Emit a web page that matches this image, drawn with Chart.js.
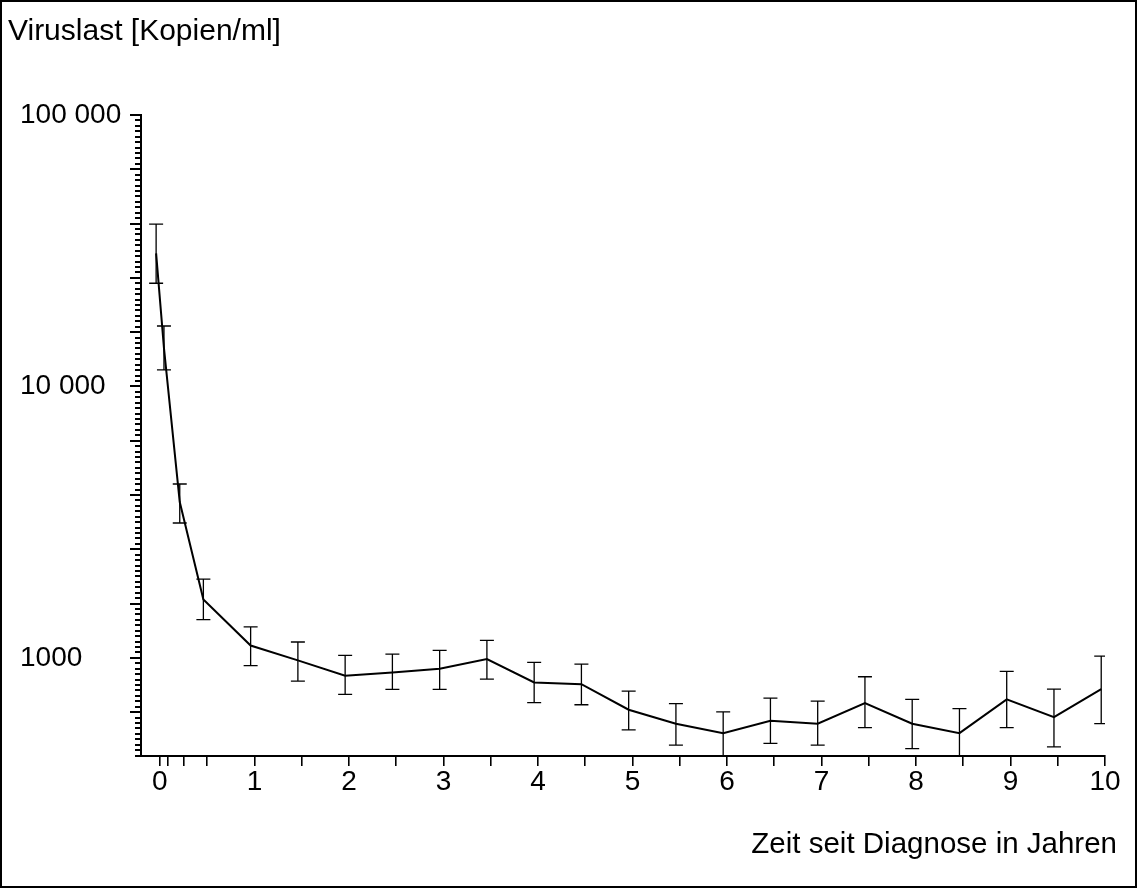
<!DOCTYPE html>
<html>
<head>
<meta charset="utf-8">
<script src="https://cdn.jsdelivr.net/npm/chart.js@4.4.1/dist/chart.umd.min.js"></script>
<style>
html,body{margin:0;padding:0;background:#fff;}
canvas{display:block;}
</style>
</head>
<body>
<canvas id="c" width="1137" height="888"></canvas>
<script>
// ---- data ----
const years = [-0.04, 0.043, 0.21, 0.46, 0.96, 1.46, 1.96, 2.46, 2.96, 3.46, 3.96, 4.46, 4.96, 5.46, 5.96, 6.46, 6.96, 7.46, 7.96, 8.46, 8.96, 9.46, 9.96];
const meanLoad  = [30900, 13840, 3750, 1640, 1110, 979, 860, 884, 912, 990, 812, 800, 644, 572, 528, 587, 572, 681, 572, 528, 703, 605, 767];
const upperLoad = [39600, 16700, 4370, 1950, 1300, 1144, 1021, 1033, 1066, 1160, 962, 949, 754, 678, 633, 711, 693, 852, 703, 650, 892, 767, 1015];
const lowerLoad = [24000, 11500, 3140, 1383, 936, 821, 734, 765, 765, 835, 684, 672, 543, 477, 420, 484, 477, 553, 463, 420, 553, 470, 572];

const xTickValues = [0, 1/12, 0.25, 0.5, 1, 1.5, 2, 2.5, 3, 3.5, 4, 4.5, 5, 5.5, 6, 6.5, 7, 7.5, 8, 8.5, 9, 9.5, 10];
const xTickLabels = ['0','1','2','3','4','5','6','7','8','9','10'];
const yLabelValues = [1000, 10000, 100000];
const yLabelTexts  = ['1000', '10 000', '100 000'];
const yAxisTitle = 'Viruslast [Kopien/ml]';
const xAxisTitle = 'Zeit seit Diagnose in Jahren';

const Y_MIN = 435, Y_MAX = 100000;
const FONT = '"Liberation Sans", Arial, Helvetica, sans-serif';

const errorBars = {
  id: 'errorBars',
  afterDatasetsDraw(chart) {
    const { ctx, chartArea, scales: { x, y } } = chart;
    ctx.save();
    ctx.beginPath();
    ctx.rect(chartArea.left, chartArea.top, chartArea.right - chartArea.left, chartArea.bottom - chartArea.top);
    ctx.clip();
    ctx.strokeStyle = '#000';
    ctx.lineWidth = 1.3;
    years.forEach((t, i) => {
      const px = x.getPixelForValue(t);
      const pu = y.getPixelForValue(upperLoad[i]);
      const pl = y.getPixelForValue(lowerLoad[i]);
      ctx.beginPath();
      ctx.moveTo(px, pu); ctx.lineTo(px, pl);
      ctx.moveTo(px - 7, pu); ctx.lineTo(px + 7, pu);
      ctx.moveTo(px - 7, pl); ctx.lineTo(px + 7, pl);
      ctx.stroke();
    });
    ctx.restore();
  }
};

const extras = {
  id: 'extras',
  afterDraw(chart) {
    const { ctx, chartArea, scales: { y } } = chart;
    ctx.save();
    // y-axis tick marks every 0.02 decade, longer every 0.2 decade
    ctx.fillStyle = '#000';
    const k0 = Math.ceil(Math.log10(Y_MIN) / 0.02 - 1e-9);
    const k1 = Math.floor(Math.log10(Y_MAX) / 0.02 + 1e-9);
    const ax = Math.round(chartArea.left);
    for (let k = k0; k <= k1; k++) {
      const py = Math.round(y.getPixelForValue(Math.pow(10, k * 0.02)));
      const len = (k % 10 === 0) ? 11 : 6;
      ctx.fillRect(ax - len, py - 1, len, 2);
    }
    // texts
    ctx.textBaseline = 'alphabetic';
    ctx.textAlign = 'left';
    ctx.font = '30px ' + FONT;
    ctx.fillText(yAxisTitle, 8, 40);
    ctx.textAlign = 'right';
    ctx.font = '29.5px ' + FONT;
    ctx.fillText(xAxisTitle, 1117, 853);
    // frame
    ctx.strokeStyle = '#000';
    ctx.lineWidth = 2;
    ctx.strokeRect(1, 1, chart.width - 2, chart.height - 2);
    ctx.restore();
  }
};

new Chart(document.getElementById('c'), {
  type: 'line',
  data: {
    datasets: [{
      data: years.map((t, i) => ({ x: t, y: meanLoad[i] })),
      borderColor: '#000',
      borderWidth: 2,
      pointRadius: 0,
      tension: 0,
      fill: false
    }]
  },
  options: {
    responsive: false,
    animation: false,
    devicePixelRatio: 1,
    layout: { padding: { top: 115, right: 32, bottom: 0, left: 20 } },
    plugins: { legend: { display: false }, tooltip: { enabled: false }, title: { display: false } },
    scales: {
      x: {
        type: 'linear',
        min: -0.2, max: 10,
        bounds: 'data',
        afterBuildTicks(scale) { scale.ticks = xTickValues.map(v => ({ value: v })); },
        afterFit(scale) { scale.height = 132; },
        grid: { drawOnChartArea: false, drawTicks: true, tickLength: 10, color: '#000', lineWidth: 1.6 },
        border: { display: true, color: '#000', width: 2 },
        ticks: {
          autoSkip: false, maxRotation: 0, minRotation: 0, padding: -1,
          color: '#000', font: { family: FONT, size: 28 },
          callback(value) {
            const r = Math.round(value);
            return Math.abs(value - r) < 1e-6 ? xTickLabels[r] : '';
          }
        }
      },
      y: {
        type: 'logarithmic',
        min: Y_MIN, max: Y_MAX,
        bounds: 'data',
        afterBuildTicks(scale) { scale.ticks = yLabelValues.map(v => ({ value: v, major: true })); },
        afterFit(scale) { scale.width = 121; },
        grid: { drawOnChartArea: false, drawTicks: true, tickLength: 11, color: '#000', lineWidth: 2 },
        border: { display: true, color: '#000', width: 2 },
        ticks: {
          autoSkip: false, padding: 8, crossAlign: 'far',
          color: '#000', font: { family: FONT, size: 28 },
          callback(value) {
            const j = yLabelValues.findIndex(v => Math.abs(v - value) / v < 1e-6);
            return j >= 0 ? yLabelTexts[j] : '';
          }
        }
      }
    }
  },
  plugins: [errorBars, extras]
});
</script>
</body>
</html>
